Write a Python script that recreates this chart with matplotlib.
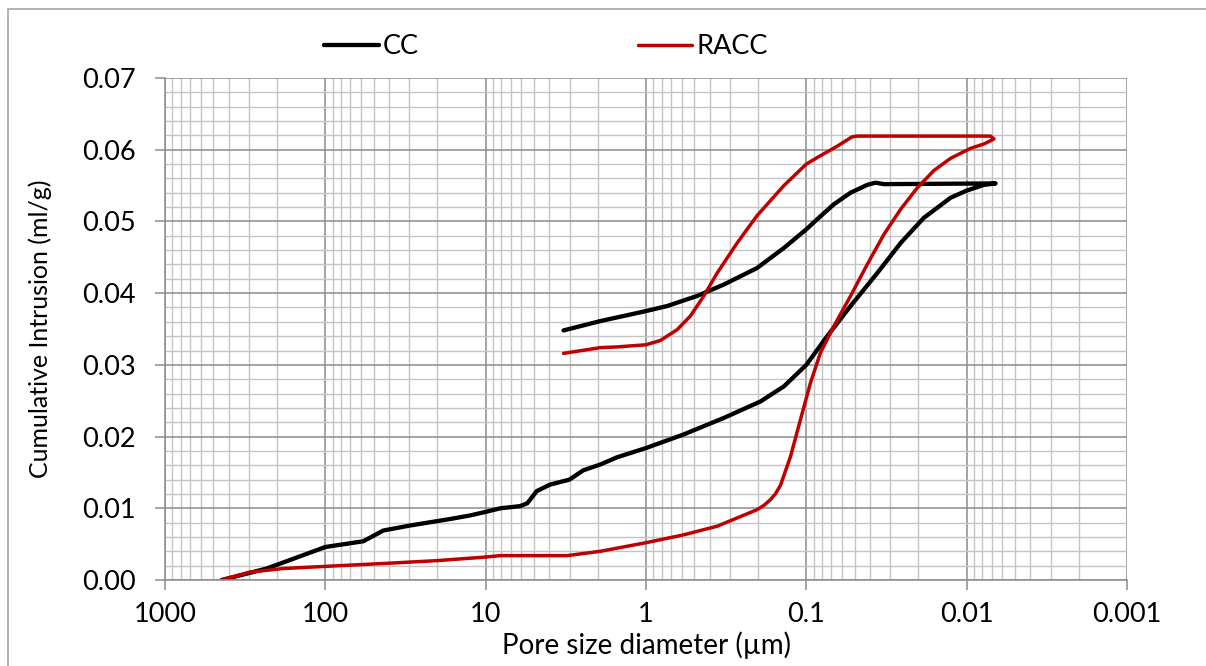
import matplotlib
matplotlib.use('Agg')
import matplotlib.pyplot as plt
from matplotlib.ticker import FixedLocator, LogLocator, MultipleLocator, NullFormatter
from matplotlib.patches import Rectangle

plt.rcParams['font.family'] = ['Lato', 'DejaVu Sans']

# pore size (um) and cumulative intrusion (ml/g), intrusion then extrusion branch
cc_x = [443, 232, 144, 100, 58, 43.5, 29.6, 16.7, 12.5, 10, 8.1, 6.1, 5.5, 4.8, 3.97,
        3.0, 2.46, 1.93, 1.52, 1.0, 0.582, 0.327, 0.193, 0.138, 0.1, 0.0741, 0.053,
        0.0361, 0.0258, 0.0185, 0.0126, 0.01, 0.0078, 0.0066,
        0.0328, 0.037, 0.0417, 0.053, 0.0673, 0.0856, 0.1, 0.138, 0.203, 0.327,
        0.481, 0.739, 1.0, 1.93, 3.27]
cc_y = [0.0, 0.0016, 0.0033, 0.0046, 0.0054, 0.0069, 0.0076, 0.0085, 0.009, 0.0095,
        0.0100, 0.0103, 0.0107, 0.0124, 0.0133, 0.0140, 0.0153, 0.0161, 0.0171, 0.0184,
        0.0203, 0.0226, 0.0249, 0.0270, 0.0300, 0.0340, 0.0382, 0.0428, 0.0470, 0.0505,
        0.0533, 0.0543, 0.0551, 0.0553,
        0.0552, 0.0554, 0.0551, 0.0540, 0.0524, 0.0503, 0.0489, 0.0463, 0.0435, 0.0412,
        0.0396, 0.0382, 0.0375, 0.0361, 0.0348]

racc_x = [443, 295, 183, 100, 43.5, 20.2, 10, 8.1, 3.1, 1.93, 1.0, 0.582, 0.36, 0.203,
          0.184, 0.1675, 0.156, 0.145, 0.1256, 0.1087, 0.0942, 0.0816, 0.0673, 0.053,
          0.0417, 0.0328, 0.0258, 0.0203, 0.016, 0.0126, 0.00944, 0.0078, 0.00675,
          0.0071, 0.0482, 0.0518, 0.0641, 0.0856, 0.1, 0.138, 0.203, 0.27, 0.36, 0.436,
          0.529, 0.64, 0.814, 1.0, 1.52, 1.93, 3.27]
racc_y = [0.0, 0.0011, 0.0016, 0.0019, 0.0023, 0.0027, 0.0032, 0.0034, 0.0034, 0.0040,
          0.0052, 0.0063, 0.0075, 0.0098, 0.0104, 0.0112, 0.0120, 0.0132, 0.0172, 0.0224,
          0.0275, 0.0317, 0.0354, 0.0396, 0.0440, 0.0482, 0.0517, 0.0547, 0.0571, 0.0588,
          0.0602, 0.0608, 0.0615,
          0.0619, 0.0619, 0.0618, 0.0605, 0.0589, 0.0580, 0.0550, 0.0508, 0.0470, 0.0428,
          0.0396, 0.0368, 0.0349, 0.0334, 0.0328, 0.0325, 0.0324, 0.0316]

x_ticks = [1000, 100, 10, 1, 0.1, 0.01, 0.001]
x_labels = ['1000', '100', '10', '1', '0.1', '0.01', '0.001']
y_ticks = [0.00, 0.01, 0.02, 0.03, 0.04, 0.05, 0.06, 0.07]

fig = plt.figure(figsize=(12.06, 6.66), dpi=100)
ax = fig.add_axes([165 / 1206, 86 / 666, (1127 - 165) / 1206, (580 - 78) / 666])

fig.patches.append(Rectangle((8 / 1206, -0.01), 1.1, (666 - 9) / 666 + 0.01,
                             transform=fig.transFigure, fill=False,
                             edgecolor='#a6a6a6', linewidth=1.2))

ax.plot(cc_x, cc_y, color='black', linewidth=3.1, label='CC', solid_capstyle='round')
ax.plot(racc_x, racc_y, color='#c00000', linewidth=2.5, label='RACC', solid_capstyle='round')

ax.set_xscale('log')
ax.set_xlim(1000, 0.001)
ax.set_ylim(0, 0.07)

ax.xaxis.set_major_locator(FixedLocator(x_ticks))
ax.set_xticks(x_ticks)
ax.set_xticklabels(x_labels)
ax.xaxis.set_minor_locator(LogLocator(base=10, subs=range(2, 10), numticks=20))
ax.xaxis.set_minor_formatter(NullFormatter())
ax.set_yticks(y_ticks)
ax.set_yticklabels(['%.2f' % v for v in y_ticks])
ax.yaxis.set_minor_locator(MultipleLocator(0.002))

ax.grid(True, which='major', color='#8c8c8c', linewidth=1.1)
ax.grid(True, which='minor', color='#c4c4c4', linewidth=1.0)
ax.set_axisbelow(True)

for s in ['top', 'right']:
    ax.spines[s].set_visible(False)
ax.spines['left'].set_color('#8c8c8c')
ax.spines['bottom'].set_color('#8c8c8c')
ax.spines['left'].set_linewidth(1.1)
ax.spines['bottom'].set_linewidth(1.1)

ax.tick_params(axis='both', which='major', length=7, width=1.1, color='#8c8c8c',
               labelsize=19.5, labelcolor='black')
ax.tick_params(axis='both', which='minor', length=0)
ax.tick_params(axis='x', pad=9)
ax.tick_params(axis='y', pad=14)

ax.set_xlabel('Pore size diameter (µm)', fontsize=20, labelpad=3)
ax.set_ylabel('Cumulative Intrusion (ml/g)', fontsize=18, labelpad=22)

fig.legend(loc='center', bbox_to_anchor=(546 / 1206, 1 - 47 / 666), ncol=2,
           frameon=False, fontsize=19.5, handlelength=2.0, handletextpad=0.15,
           columnspacing=8.1)

fig.savefig('out.png', dpi=100)
